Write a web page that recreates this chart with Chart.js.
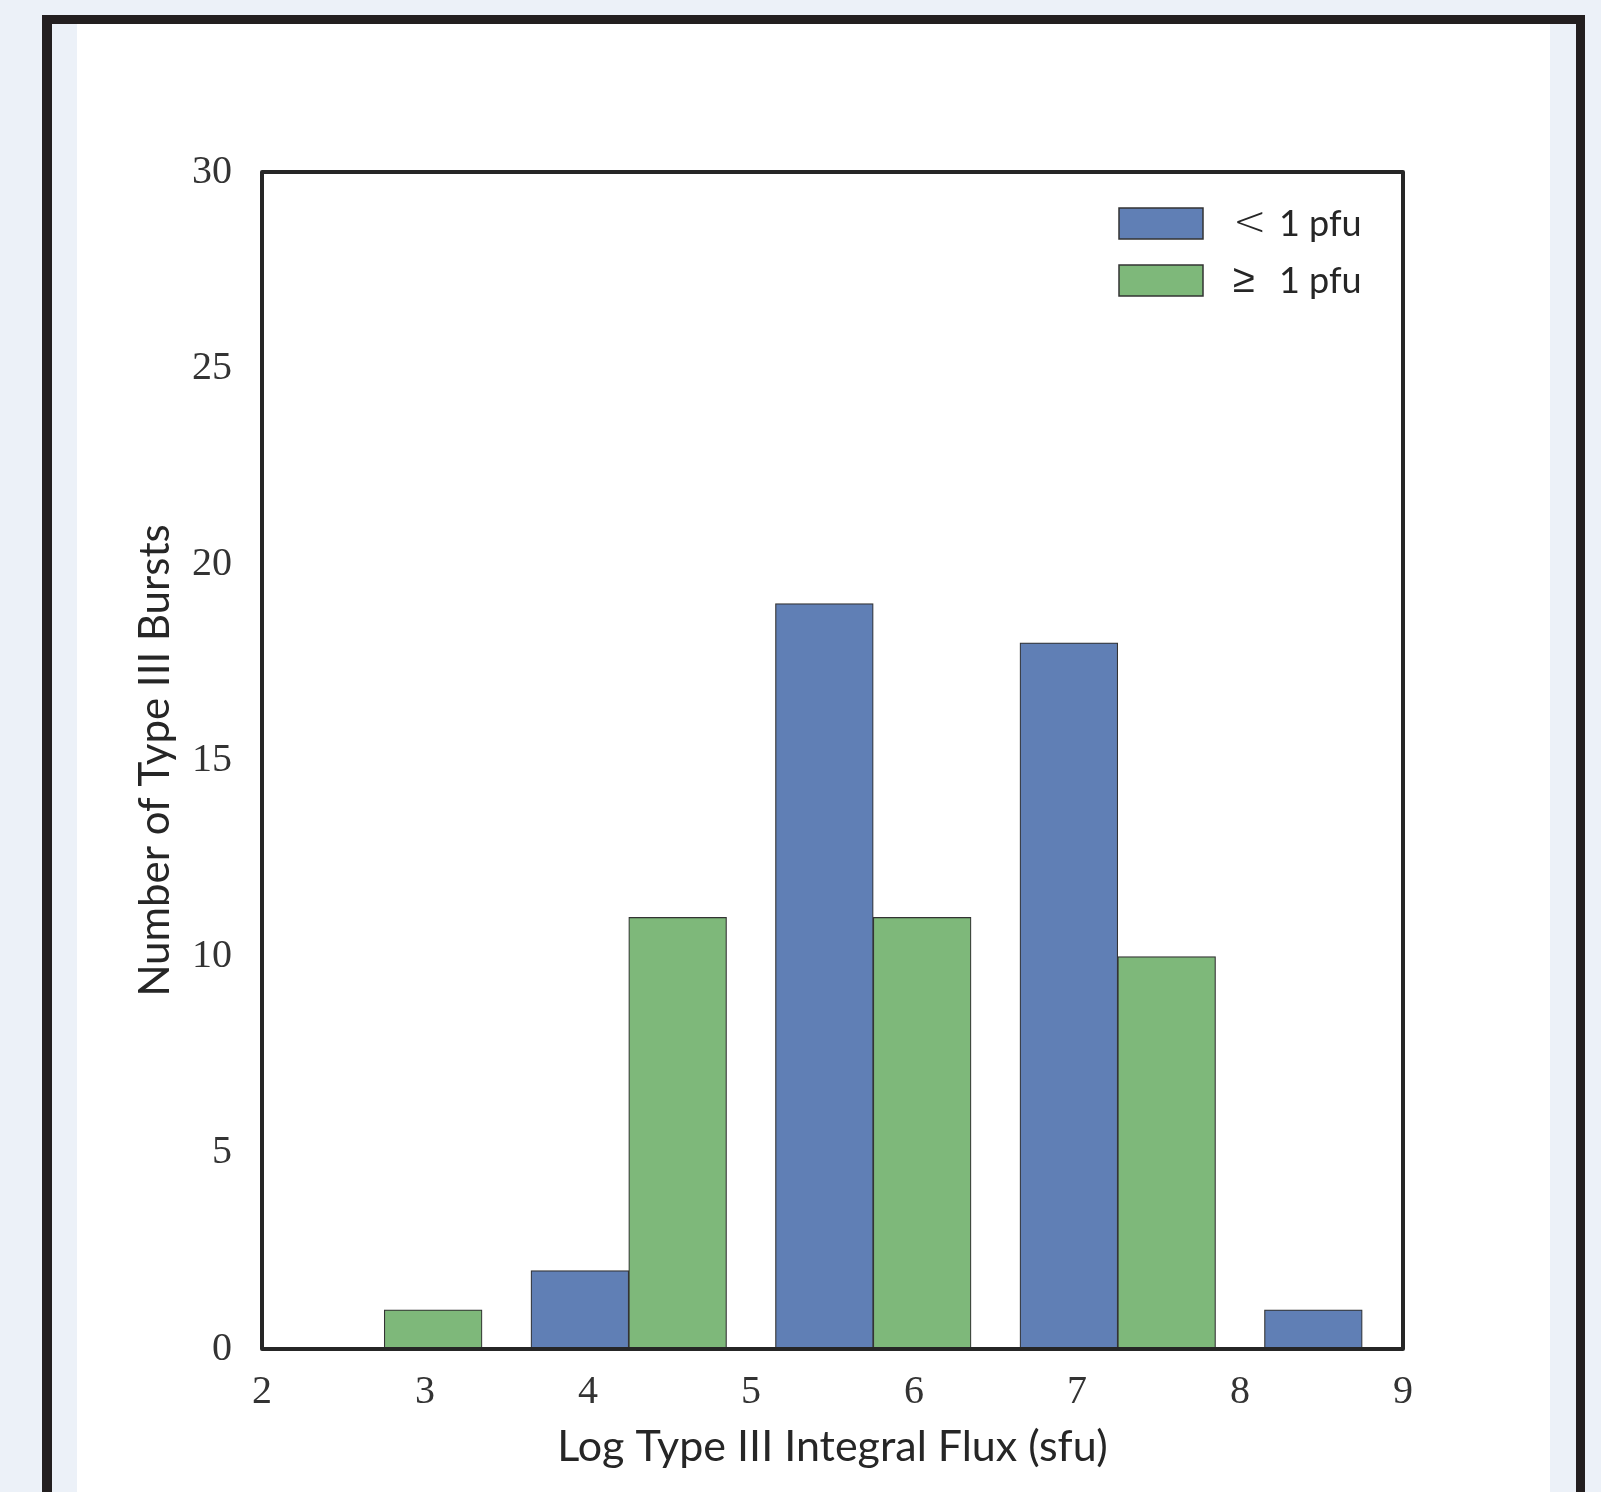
<!DOCTYPE html>
<html>
<head>
<meta charset="utf-8">
<title>Type III burst integral flux histogram</title>
<script src="https://cdn.jsdelivr.net/npm/chart.js@4.4.1/dist/chart.umd.min.js"></script>
<style>
  html, body { margin: 0; padding: 0; width: 1601px; height: 1492px; overflow: hidden; background: #ecf1f8; }
  #frame { position: absolute; left: 42px; top: 15px; width: 1543px; height: 1600px; box-sizing: border-box;
           border: 10px solid #231f20; border-top-width: 9px; border-right-width: 9px; background: #ecf1f8; }
  #panel { position: absolute; left: 77px; top: 24px; width: 1473px; height: 1600px; background: #ffffff; }
  #chart { position: absolute; left: 0; top: 0; }
</style>
</head>
<body>
<div id="frame"></div>
<div id="panel"></div>
<canvas id="chart" width="1601" height="1492"></canvas>
<script>
// Histogram bins (log10 of Type III integral flux, sfu), width 1.5
const binCenters = [2.75, 4.25, 5.75, 7.25, 8.75];
const binWidth = 1.5;
// Burst counts per bin for each proton-flux class
const belowOnePfu = [0, 2, 19, 18, 1];
const atLeastOnePfu = [1, 11, 11, 10, 0];
const seriesLabels = ['< 1 pfu', '\u2265 1 pfu'];
// Axis ticks
const xTickValues = [2, 3, 4, 5, 6, 7, 8, 9];
const yTickValues = [0, 5, 10, 15, 20, 25, 30];

// Two side-by-side bars fill 80% of each bin
const relativeWidth = 0.8;
const halfBar = binWidth * relativeWidth / 4;

const blueData = binCenters.map((c, i) => ({ x: c - halfBar, y: belowOnePfu[i] }));
const greenData = binCenters.map((c, i) => ({ x: c + halfBar, y: atLeastOnePfu[i] }));

const INK = '#262626';
const TICK_FONT = { family: "'Liberation Serif', serif", size: 40 };
const SANS = "Lato, 'Open Sans', sans-serif";

// Box around the plotting area
const plotFrame = {
  id: 'plotFrame',
  afterDatasetsDraw(chart) {
    const { ctx, chartArea: a } = chart;
    ctx.save();
    ctx.lineWidth = 4;
    ctx.strokeStyle = INK;
    ctx.lineJoin = 'round';
    ctx.strokeRect(a.left, a.top, a.right - a.left, a.bottom - a.top);
    ctx.restore();
  }
};

// Legend drawn in the upper-right corner inside the plot;
// the relation sign is set in a larger math-like glyph
const insideLegend = {
  id: 'insideLegend',
  afterDraw(chart) {
    const { ctx, chartArea: a } = chart;
    const boxW = 84, boxH = 31, rowGap = 57;
    const boxLeft = a.right - 284;
    let top = a.top + 36;
    ctx.save();
    ctx.textBaseline = 'middle';
    ctx.textAlign = 'left';
    chart.data.datasets.forEach((ds) => {
      ctx.fillStyle = ds.backgroundColor;
      ctx.fillRect(boxLeft, top, boxW, boxH);
      ctx.lineWidth = 1.5;
      ctx.strokeStyle = ds.borderColor;
      ctx.strokeRect(boxLeft, top, boxW, boxH);
      const sign = ds.label.charAt(0);
      const rest = ds.label.slice(1).trim();
      const midY = top + boxH / 2 + 1;
      ctx.fillStyle = INK;
      ctx.font = "300 40px 'DejaVu Sans', sans-serif";
      ctx.fillText(sign, boxLeft + 114, midY);
      ctx.font = '36px ' + SANS;
      ctx.fillText(rest, boxLeft + 160, midY);
      top += rowGap;
    });
    ctx.restore();
  }
};

new Chart(document.getElementById('chart'), {
  type: 'bar',
  data: {
    datasets: [
      {
        label: seriesLabels[0],
        data: blueData,
        backgroundColor: '#607fb5',
        borderColor: '#333333',
        borderWidth: 1.2,
        borderSkipped: false,
        grouped: false,
        categoryPercentage: 1,
        barPercentage: 1
      },
      {
        label: seriesLabels[1],
        data: greenData,
        backgroundColor: '#7eb87a',
        borderColor: '#333333',
        borderWidth: 1.2,
        borderSkipped: false,
        grouped: false,
        categoryPercentage: 1,
        barPercentage: 1
      }
    ]
  },
  options: {
    responsive: false,
    animation: false,
    devicePixelRatio: 1,
    layout: { padding: { top: 172, right: 198, bottom: 0, left: 0 } },
    plugins: {
      legend: { display: false },
      tooltip: { enabled: false }
    },
    scales: {
      x: {
        type: 'linear',
        position: 'bottom',
        offset: false,
        min: 2,
        max: 9,
        afterFit: (s) => { s.height = 143; },
        afterBuildTicks: (s) => { s.ticks = xTickValues.map((v) => ({ value: v })); },
        grid: { display: false, drawTicks: false, offset: false },
        border: { display: false },
        ticks: { font: TICK_FONT, color: '#333333', padding: 19, maxRotation: 0, autoSkip: false },
        title: {
          display: true,
          text: 'Log Type III Integral Flux (sfu)',
          font: { family: SANS, size: 43 },
          color: INK,
          padding: { top: 0, bottom: 19 }
        }
      },
      y: {
        type: 'linear',
        min: 0,
        max: 30,
        afterFit: (s) => { s.width = 262; },
        afterBuildTicks: (s) => { s.ticks = yTickValues.map((v) => ({ value: v })); },
        grid: { display: false, drawTicks: false },
        border: { display: false },
        ticks: { font: TICK_FONT, color: '#333333', padding: 30 },
        title: {
          display: true,
          text: 'Number of Type III Bursts',
          font: { family: SANS, size: 42 },
          color: INK,
          padding: { top: 130, bottom: 0 }
        }
      }
    }
  },
  plugins: [plotFrame, insideLegend]
});
</script>
</body>
</html>
